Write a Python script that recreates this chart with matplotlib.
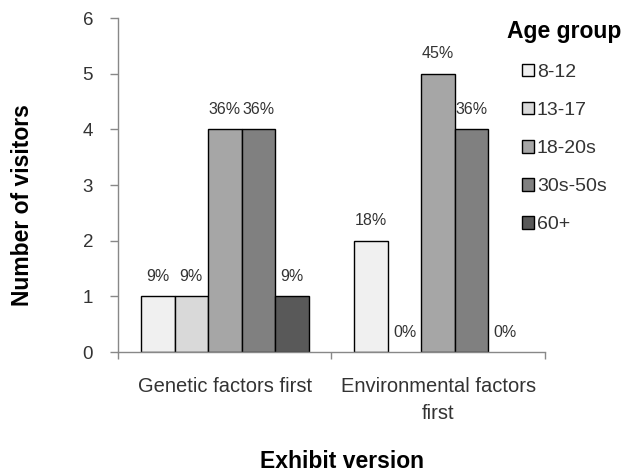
import numpy as np
import matplotlib
matplotlib.use('Agg')
import matplotlib.pyplot as plt
from matplotlib.patches import Patch
from matplotlib.ticker import FixedLocator


versions = ['Genetic factors first', 'Environmental factors\nfirst']
age_groups = ['8-12', '13-17', '18-20s', '30s-50s', '60+']

visitors_8_12 = [1, 2]
visitors_13_17 = [1, 0]
visitors_18_20s = [4, 5]
visitors_30s_50s = [4, 4]
visitors_60_plus = [1, 0]

share_labels = [['9%', '18%'], ['9%', '0%'], ['36%', '45%'],
                ['36%', '36%'], ['9%', '0%']]

bar_colors = ['#f0f0f0', '#d9d9d9', '#a6a6a6', '#808080', '#595959']


def plot_styling():

    plt.rcParams['font.family'] = ['Liberation Sans', 'DejaVu Sans']
    plt.rcParams['font.size'] = 14
    plt.rcParams['text.color'] = '#333333'
    plt.rcParams['xtick.color'] = '#888888'
    plt.rcParams['ytick.color'] = '#888888'
    plt.rcParams['xtick.labelcolor'] = '#333333'
    plt.rcParams['ytick.labelcolor'] = '#333333'


def main():

    plot_styling()

    series = [visitors_8_12, visitors_13_17, visitors_18_20s,
              visitors_30s_50s, visitors_60_plus]

    fig = plt.figure(figsize=(6.35, 4.74), dpi=100)
    ax = fig.add_axes([0.186, 0.257, 0.672, 0.705])

    x = np.arange(len(versions))
    width = 0.157

    for i, (vals, color) in enumerate(zip(series, bar_colors)):
        pos = x + (i - 2) * width
        # empty bars get no outline so only the axis line shows
        edges = [1.0 if v > 0 else 0 for v in vals]
        ax.bar(pos, vals, width, color=color, edgecolor='black',
               linewidth=edges, zorder=2)
        for p, v, lab in zip(pos, vals, share_labels[i]):
            ax.annotate(lab, (p, v), xytext=(0, 14.5), textcoords='offset points',
                        ha='center', va='center', fontsize=11.5, color='#333333')

    ax.set_xlim(-0.5, 1.5)
    ax.set_ylim(0, 6)
    ax.set_yticks(range(0, 7))

    ax.set_xticks(x)
    ax.set_xticklabels(versions, fontsize=14.5, linespacing=1.55)
    ax.xaxis.set_minor_locator(FixedLocator([-0.5, 0.5, 1.5]))
    ax.tick_params(axis='x', which='major', length=0, pad=18)
    ax.tick_params(axis='x', which='minor', length=5, width=1)
    ax.tick_params(axis='y', length=6, width=1, pad=12, labelsize=13.5)

    for side in ['top', 'right']:
        ax.spines[side].set_visible(False)
    for side in ['left', 'bottom']:
        ax.spines[side].set_color('#888888')
        ax.spines[side].set_linewidth(1.0)

    fig.text(23 / 635, 1 - 205 / 474, 'Number of visitors', rotation=90,
             fontsize=16.5, fontweight='bold', color='black',
             ha='center', va='center')
    fig.text(342 / 635, 1 - 462 / 474, 'Exhibit version', fontsize=16.5,
             fontweight='bold', color='black', ha='center', va='center')

    handles = [Patch(facecolor=c, edgecolor='black', linewidth=1.0)
               for c in bar_colors]
    leg = fig.legend(handles, age_groups, loc='upper left',
                     bbox_to_anchor=(0.771, 0.995), frameon=False,
                     title='Age group', handlelength=0.62, handleheight=0.62,
                     handletextpad=0.15, labelspacing=1.08, fontsize=14,
                     title_fontproperties={'weight': 'bold', 'size': 16.5})
    leg.get_title().set_color('black')
    leg._legend_box.sep = 15

    fig.savefig('out.png', dpi=100)


if __name__ == '__main__':

    main()
